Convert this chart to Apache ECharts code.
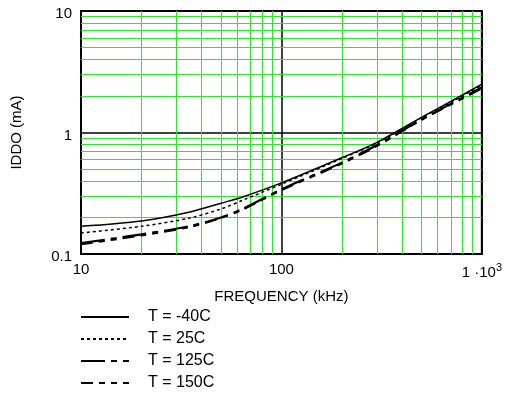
<!DOCTYPE html>
<html lang="en">
<head>
    <meta charset="UTF-8">
    <script src="https://cdn.jsdelivr.net/npm/echarts@6/dist/echarts.min.js"></script>
    <style>
        html, body { margin: 0; padding: 0; background: #fff; }
        #chart { width: 505px; height: 407px; }
    </style>
    <title>IDDO vs frequency</title>
</head>
<body>
    <div id="chart"></div>
    <script type="text/javascript">
        // frequency points (kHz)
        var freqs = [10, 20, 35, 50, 64, 100, 200, 300, 500, 700, 1000];
        // IDDO (mA) per temperature
        var tm40 = [0.169, 0.187, 0.222, 0.262, 0.295, 0.385, 0.62, 0.83, 1.33, 1.80, 2.50];
        var t25 = [0.149, 0.169, 0.198, 0.235, 0.277, 0.375, 0.61, 0.82, 1.32, 1.77, 2.45];
        var t125 = [0.123, 0.145, 0.17, 0.20, 0.235, 0.34, 0.565, 0.79, 1.28, 1.72, 2.35];
        var t150 = [0.12, 0.142, 0.167, 0.198, 0.232, 0.335, 0.555, 0.775, 1.27, 1.70, 2.30];
        var names = ['T = -40C', 'T = 25C', 'T = 125C', 'T = 150C'];
        // minor grid lines
        var xMinor = [20, 30, 40, 50, 60, 70, 80, 90, 200, 300, 400, 500, 600, 700, 800, 900];
        var yMinor = [0.2, 0.3, 0.4, 0.5, 0.6, 0.7, 0.8, 0.9, 2, 3, 4, 5, 6, 7, 8, 9];

        function pairs(ys) {
            return freqs.map(function (f, i) { return [f, ys[i]]; });
        }

        var chart = echarts.init(document.getElementById('chart'));
        var font = 'Liberation Sans, Arial, sans-serif';

        var minorLines = [];
        xMinor.forEach(function (v) { minorLines.push({ xAxis: v }); });
        yMinor.forEach(function (v) { minorLines.push({ yAxis: v }); });

        function line(name, ys, width, dash) {
            return {
                name: name,
                type: 'line',
                data: pairs(ys),
                smooth: 0.3,
                symbol: 'none',
                z: 5,
                itemStyle: { color: '#000' },
                lineStyle: { color: '#000', width: width, type: dash }
            };
        }

        var option = {
            animation: false,
            textStyle: { fontFamily: font },
            grid: {
                left: 81, right: 19, top: 11, bottom: 153,
                show: true, borderColor: '#000', borderWidth: 2
            },
            legend: {
                data: names,
                orient: 'vertical',
                left: 80, top: 309,
                itemWidth: 48, itemHeight: 12,
                itemGap: 6, padding: 0,
                itemStyle: { opacity: 0 },
                textStyle: { fontSize: 16, color: '#000', fontFamily: font, padding: [0, 0, 0, 14] }
            },
            xAxis: {
                type: 'log', logBase: 10, min: 10, max: 1000,
                name: 'FREQUENCY (kHz)', nameLocation: 'middle', nameGap: 35,
                nameTextStyle: { fontSize: 15, color: '#000' },
                axisLine: { show: false },
                axisTick: { show: false },
                splitLine: { show: true, lineStyle: { color: '#000', width: 1.5 } },
                axisLabel: {
                    color: '#000', fontSize: 15, margin: 8,
                    formatter: function (v) {
                        if (v >= 1000) return '{a|1 ·10}{s|3}';
                        return String(v);
                    },
                    rich: {
                        a: { fontSize: 15, color: '#000' },
                        s: { fontSize: 11, color: '#000', padding: [0, 0, 10, 0] }
                    }
                }
            },
            yAxis: {
                type: 'log', logBase: 10, min: 0.1, max: 10,
                name: 'IDDO (mA)', nameLocation: 'middle', nameGap: 57,
                nameTextStyle: { fontSize: 15, color: '#000' },
                axisLine: { show: false },
                axisTick: { show: false },
                splitLine: { show: true, lineStyle: { color: '#000', width: 1.5 } },
                axisLabel: {
                    color: '#000', fontSize: 15, margin: 9,
                    formatter: function (v) { return '{v|' + (+v.toPrecision(2)) + '}'; },
                    rich: {
                        v: { fontSize: 15, color: '#000', padding: [6, 0, 0, 0] }
                    }
                }
            },
            series: [
                {
                    name: 'grid',
                    type: 'line',
                    data: [],
                    z: 1,
                    silent: true,
                    markLine: {
                        silent: true,
                        symbol: 'none',
                        label: { show: false },
                        lineStyle: { color: '#22ee22', width: 1, type: 'solid' },
                        data: minorLines
                    }
                },
                line(names[0], tm40, 1.5, 'solid'),
                line(names[1], t25, 1.5, [3, 3]),
                line(names[2], t125, 2.2, [24, 6, 6, 6]),
                line(names[3], t150, 2, [12, 6, 6, 6, 6, 6])
            ]
        };
        chart.setOption(option);
    </script>
</body>
</html>
